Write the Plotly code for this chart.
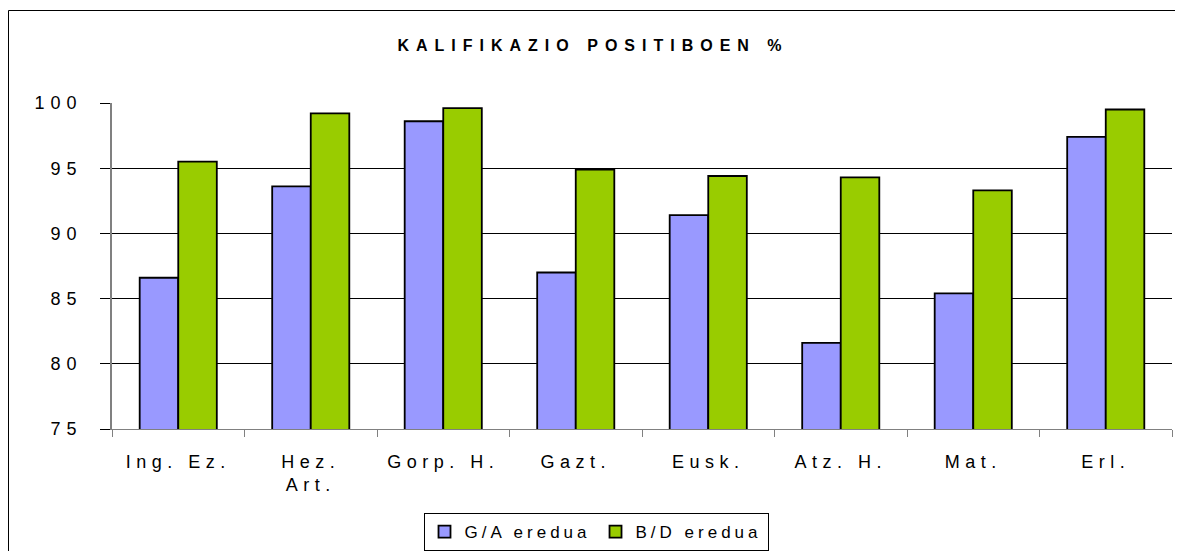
import plotly.graph_objects as go

categories = ["Ing. Ez.", "Hez. Art.", "Gorp. H.", "Gazt.", "Eusk.", "Atz. H.", "Mat.", "Erl."]
tick_labels = ["Ing. Ez.", "Hez.<br>Art.", "Gorp. H.", "Gazt.", "Eusk.", "Atz. H.", "Mat.", "Erl."]
series_names = ["G/A eredua", "B/D eredua"]
ga_values = [86.6, 93.6, 98.6, 87.0, 91.4, 81.6, 85.4, 97.4]
bd_values = [95.5, 99.2, 99.6, 94.9, 94.4, 94.3, 93.3, 99.5]
y_ticks = [75, 80, 85, 90, 95, 100]
title_text = "KALIFIKAZIO POSITIBOEN %"

# the page body has an 8px margin: figure coords = screen coords - OFF
OFF = 8
W, H = 1183 - OFF, 551 - OFF
# plot area on screen: x 112..1172, y 102.7..429
ML = 112 - OFF
MT = 103 - OFF
MR = W - (1172 - OFF)
MB = H - (429 - OFF)
PW, PH = W - ML - MR, H - MT - MB


def px(x):
    """screen x -> paper x"""
    return (x - OFF - ML) / PW


def py(y):
    """screen y -> paper y"""
    return (H - MB - (y - OFF)) / PH


def spaced(text, sp):
    return "<br>".join(
        f'<span style="letter-spacing:{sp}px">{line}</span>' for line in text.split("<br>")
    )


FONT = "Arial, Liberation Sans, sans-serif"

fig = go.Figure()
fig.add_trace(go.Bar(
    x=categories, y=ga_values, name=spaced(series_names[0], 4),
    marker=dict(color="#9999FF", line=dict(color="#000000", width=1.8)),
))
fig.add_trace(go.Bar(
    x=categories, y=bd_values, name=spaced(series_names[1], 4),
    marker=dict(color="#99CC00", line=dict(color="#000000", width=1.8)),
))

fig.update_layout(
    width=W, height=H,
    margin=dict(l=ML, r=MR, t=MT, b=MB, pad=0, autoexpand=False),
    paper_bgcolor="white", plot_bgcolor="white",
    barmode="group", bargap=0.418, bargroupgap=0,
    font=dict(family=FONT, size=17, color="#000000"),
    title=dict(
        text="<b>" + spaced(title_text, 7) + "</b>",
        x=(593 - OFF) / W, xref="container", xanchor="center",
        y=1 - (45 - OFF) / H, yref="container", yanchor="middle",
        font=dict(family=FONT, size=16, color="#000000"),
    ),
    showlegend=True,
    legend=dict(
        orientation="h", x=px(596), xref="paper", xanchor="center",
        y=py(513), yanchor="top",
        bordercolor="#000000", borderwidth=1, bgcolor="white",
        font=dict(family=FONT, size=17, color="#000000"),
        itemwidth=30, tracegroupgap=0,
    ),
    xaxis=dict(
        type="category", automargin=False,
        tickmode="array", tickvals=categories,
        ticktext=[spaced(t, 5.5) for t in tick_labels],
        tickson="boundaries", ticks="outside", ticklen=7, tickcolor="#808080",
        showline=True, linecolor="#808080", linewidth=1,
        showgrid=False, tickfont=dict(family=FONT, size=18, color="#000000"),
        ticklabelstandoff=16,
    ),
    yaxis=dict(
        range=[75, 100], automargin=False,
        tickmode="array", tickvals=y_ticks,
        ticktext=[spaced(str(v), 6) for v in y_ticks],
        ticks="outside", ticklen=10, tickcolor="#000000",
        showline=True, linecolor="#808080", linewidth=1.5,
        showgrid=True, gridcolor="#000000", gridwidth=1,
        zeroline=False,
        tickfont=dict(family=FONT, size=18, color="#000000"),
        ticklabelstandoff=14,
    ),
)

# outer chart frame
fig.add_shape(
    type="rect", xref="paper", yref="paper",
    x0=px(8.5), x1=px(1200), y0=py(570), y1=py(10.5),
    line=dict(color="#000000", width=1), fillcolor="rgba(0,0,0,0)", layer="below",
)

fig.write_html("out.html")
